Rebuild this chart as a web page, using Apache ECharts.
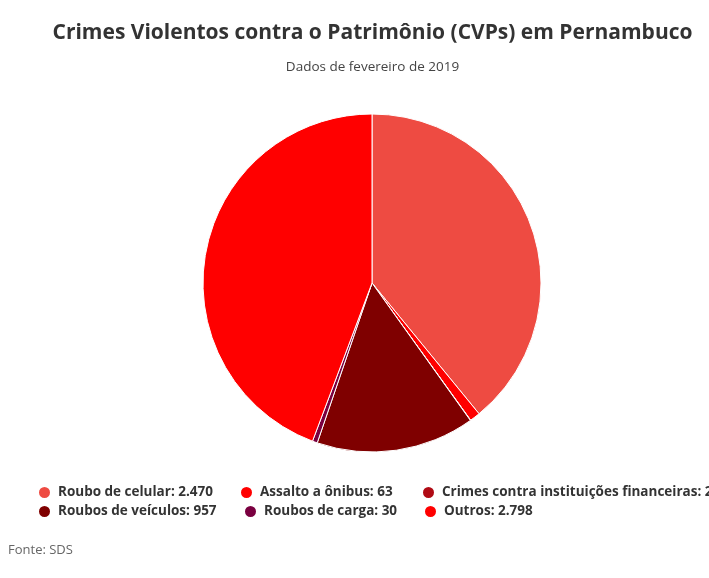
<!DOCTYPE html>
<html>
<head>
<meta charset="utf-8">
<script src="https://cdn.jsdelivr.net/npm/echarts@6/dist/echarts.min.js"></script>
<style>
html,body{margin:0;padding:0;overflow:hidden;background:#fff;}
#chart{width:745px;height:578px;}
</style>
</head>
<body>
<div id="chart"></div>
<script>
const categories = ["Roubo de celular", "Assalto a ônibus", "Crimes contra instituições financeiras", "Roubos de veículos", "Roubos de carga", "Outros"];
const values = [2470, 63, 2, 957, 30, 2798];
const colors = ["#ee4b42", "#ff0000", "#b00a14", "#7f0000", "#7a0040", "#ff0000"];

function fmt(n){ return String(n).replace(/\B(?=(\d{3})+(?!\d))/g, "."); }

const legendPos = [
  {left: 32, top: 480}, {left: 234, top: 480}, {left: 416, top: 480},
  {left: 32, top: 499}, {left: 238, top: 499}, {left: 418, top: 499}
];

const legends = categories.map((c, i) => ({
  left: legendPos[i].left, top: legendPos[i].top,
  data: [c], icon: 'circle', itemWidth: 13, itemHeight: 13, itemGap: 0,
  selectedMode: false,
  formatter: name => name + ': ' + fmt(values[categories.indexOf(name)]),
  textStyle: {fontFamily: 'Open Sans', fontWeight: 'bold', fontSize: 13.5, color: '#333', padding: [0,0,0,2]}
}));

const chart = echarts.init(document.getElementById('chart'), null, {renderer: 'canvas'});
chart.setOption({
  animation: false,
  title: [
    {text: 'Crimes Violentos contra o Patrimônio (CVPs) em Pernambuco', left: 'center', top: 18,
     textStyle: {fontFamily: 'Open Sans', fontWeight: 'bold', fontSize: 21, color: '#333'}},
    {text: 'Dados de fevereiro de 2019', left: 'center', top: 55,
     textStyle: {fontFamily: 'Open Sans', fontWeight: 'normal', fontSize: 13.5, color: '#444'}},
    {text: 'Fonte: SDS', left: 3, top: 539,
     textStyle: {fontFamily: 'Open Sans', fontWeight: 'normal', fontSize: 13, color: '#666'}}
  ],
  legend: legends,
  series: [{
    type: 'pie',
    center: [372, 283],
    radius: [0, 169],
    startAngle: 90,
    clockwise: true,
    label: {show: false},
    labelLine: {show: false},
    minAngle: 0,
    avoidLabelOverlap: false,
    itemStyle: {borderColor: '#fff', borderWidth: 1},
    emphasis: {disabled: true},
    data: categories.map((c, i) => ({name: c, value: values[i], itemStyle: {color: colors[i]}}))
  }]
});
</script>
</body>
</html>
